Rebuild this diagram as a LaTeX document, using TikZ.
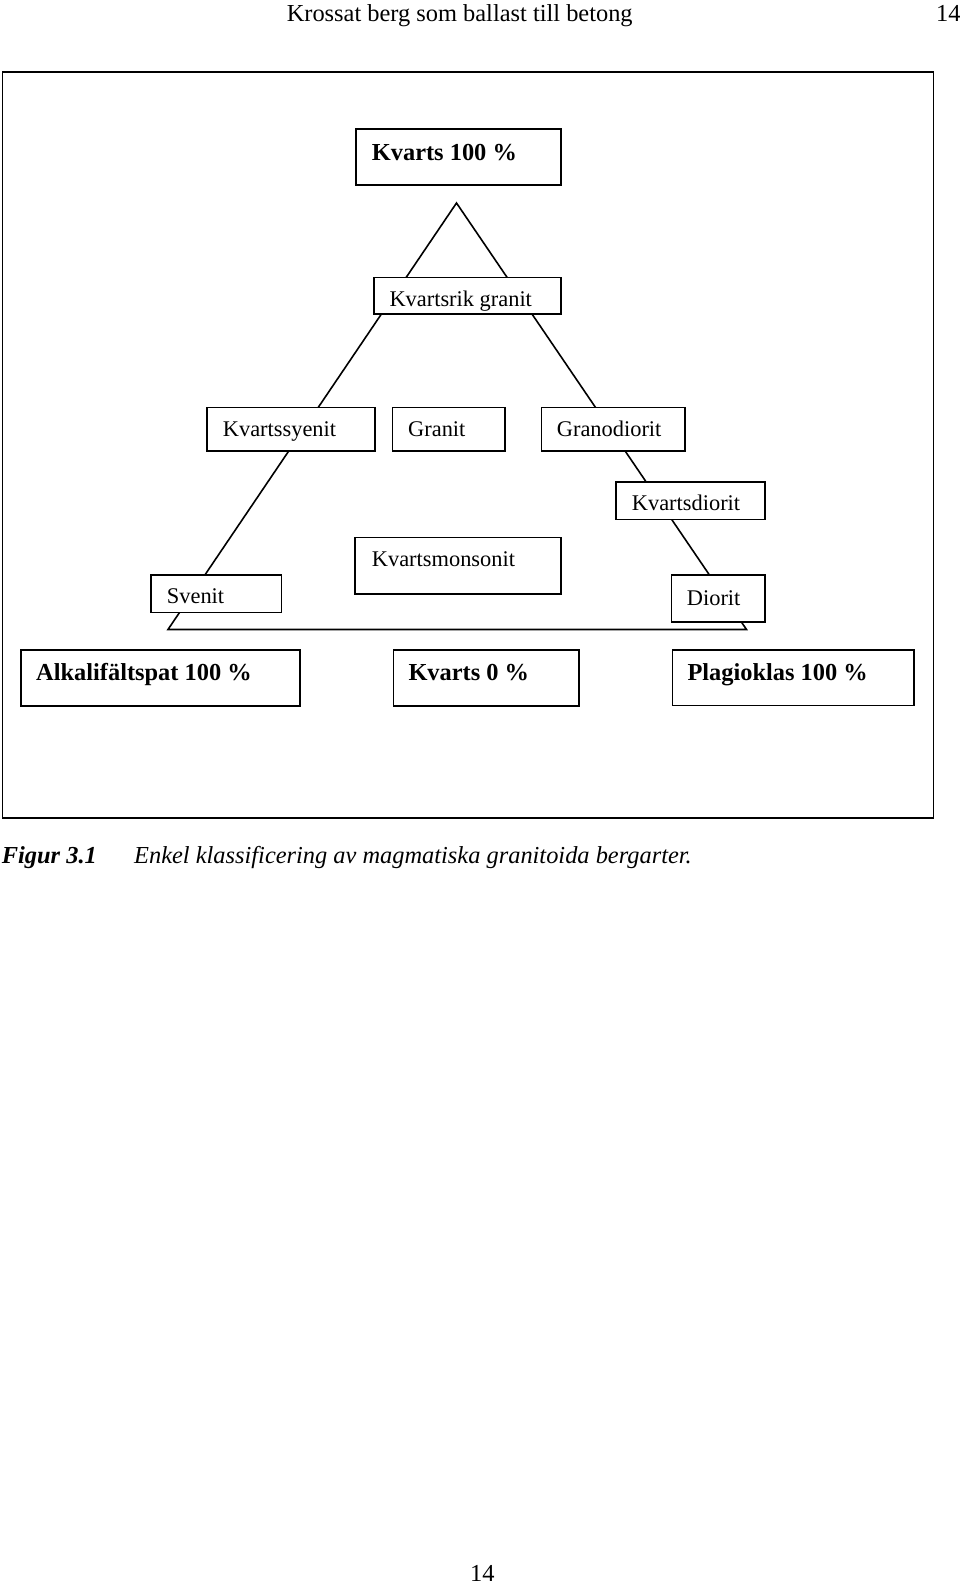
\documentclass[tikz,border=0pt]{standalone}
\usepackage{fontspec}
\setmainfont{Liberation Serif}
\begin{document}
\begin{tikzpicture}[x=1pt,y=-1pt,
  boxst/.style={draw, line width=1.6pt, fill=white, inner sep=0pt, anchor=north west},
  lbl/.style={anchor=base west, inner sep=0pt, font=\fontsize{22.4}{26}\selectfont},
  blbl/.style={anchor=base west, inner sep=0pt, font=\fontsize{24.4}{28}\selectfont\bfseries},
  hdr/.style={anchor=base west, inner sep=0pt, font=\fontsize{24.4}{28}\selectfont},
  tri/.style={draw, line width=1.6pt, line join=miter}]
\useasboundingbox (0,0) rectangle (960,1587);
% header
\node[hdr] (title) at (286.6,22) {Krossat berg som ballast till betong};
\node[hdr] (pgtop) at (936,22) {14};
% outer frame
\node[boxst, fill=none, minimum width=931pt, minimum height=746.3pt] (frame) at (1.7,71) {};
% triangle
\coordinate (apex) at (456.5,203);
\coordinate (bl) at (168,629.5);
\coordinate (br) at (746.5,629.5);
\draw[tri] (bl) -- (apex) -- (br) -- cycle;
% boxes
\node[boxst, minimum width=205pt, minimum height=55.7pt] (k100) at (355,128.3) {};
\node[blbl] (tk100) at (371.7,160) {Kvarts 100 \%};
\node[boxst, minimum width=186.7pt, minimum height=36.6pt] (krik) at (373.3,276.7) {};
\node[lbl] (tkrik) at (389.3,306.5) {Kvartsrik granit};
\node[boxst, minimum width=168pt, minimum height=43.3pt] (ksy) at (206,406.7) {};
\node[lbl] (tksy) at (222.7,436.7) {Kvartssyenit};
\node[boxst, minimum width=112.3pt, minimum height=43.3pt] (gra) at (391.7,406.7) {};
\node[lbl] (tgra) at (408,436.7) {Granit};
\node[boxst, minimum width=143.6pt, minimum height=43.3pt] (grd) at (540.7,406.7) {};
\node[lbl] (tgrd) at (556.7,436.7) {Granodiorit};
\node[boxst, minimum width=149.3pt, minimum height=37.7pt] (kdi) at (615,481) {};
\node[lbl] (tkdi) at (631.7,510.7) {Kvartsdiorit};
\node[boxst, minimum width=205.7pt, minimum height=56.6pt] (kmo) at (354.3,536.7) {};
\node[lbl] (tkmo) at (371.7,566.7) {Kvartsmonsonit};
\node[boxst, minimum width=130.7pt, minimum height=37.7pt] (sve) at (150,574) {};
\node[lbl] (tsve) at (166.7,603.3) {Svenit};
\node[boxst, minimum width=93.6pt, minimum height=46.7pt] (dio) at (670.7,574.3) {};
\node[lbl] (tdio) at (686.7,605.7) {Diorit};
\node[boxst, minimum width=279.3pt, minimum height=56pt] (alk) at (20,649) {};
\node[blbl] (talk) at (36,680.7) {Alkalifältspat 100 \%};
\node[boxst, minimum width=185.6pt, minimum height=56pt] (k0) at (392.7,649) {};
\node[blbl] (tk0) at (408.3,680.7) {Kvarts 0 \%};
\node[boxst, minimum width=241.6pt, minimum height=55.5pt] (pla) at (671.7,649) {};
\node[blbl] (tpla) at (687.3,680.7) {Plagioklas 100 \%};
% caption
\node[hdr, font=\fontsize{24.4}{28}\selectfont\bfseries\itshape] (capno) at (1.7,863) {Figur 3.1};
\node[hdr, font=\fontsize{24.4}{28}\selectfont\itshape] (cap) at (134,863) {Enkel klassificering av magmatiska granitoida bergarter.};
% footer
\node[hdr] (pgbot) at (470,1581) {14};
\end{tikzpicture}
\end{document}
